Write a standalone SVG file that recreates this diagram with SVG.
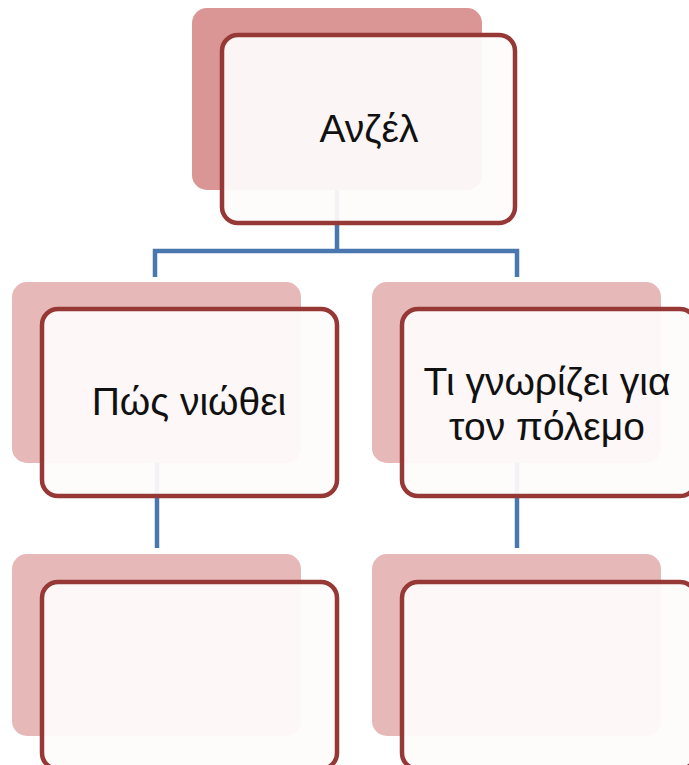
<svg xmlns="http://www.w3.org/2000/svg" width="689" height="765" viewBox="0 0 689 765">
<defs>
<style>
.back1{fill:#D99694}
.back2{fill:#E6B9B8}
.front{fill:#FEFBFB;fill-opacity:0.94;stroke:#963836;stroke-width:4.5}
.conn{fill:none;stroke:#4A78AE;stroke-width:4.5}
.lbl{font-family:"Liberation Sans","DejaVu Sans",sans-serif;font-size:39px;fill:#111111;text-anchor:middle}
</style>
</defs>
<rect width="689" height="765" fill="#FFFFFF"/>
<g id="connectors">
<path class="conn" d="M337 190 V251 M155 277 V251 H517 V277"/>
<path class="conn" d="M157 463 V548"/>
<path class="conn" d="M517 463 V548"/>
</g>
<g id="node-top">
<rect class="back1" x="192" y="8" width="290" height="182" rx="15"/>
<rect class="front" x="222" y="35" width="293" height="188" rx="16"/>
<text class="lbl" x="369" y="142">Ανζέλ</text>
</g>
<g id="node-feel">
<rect class="back2" x="12" y="282" width="289" height="181" rx="15"/>
<rect class="front" x="42" y="309" width="295" height="187" rx="16"/>
<text class="lbl" x="189" y="415">Πώς νιώθει</text>
</g>
<g id="node-war">
<rect class="back2" x="372" y="282" width="289" height="181" rx="15"/>
<rect class="front" x="402" y="309" width="294" height="187" rx="16"/>
<text class="lbl" x="547" y="395">Τι γνωρίζει για</text>
<text class="lbl" x="547" y="440">τον πόλεμο</text>
</g>
<g id="node-feel-child">
<rect class="back2" x="12" y="554" width="289" height="182" rx="15"/>
<rect class="front" x="42" y="582" width="295" height="187" rx="16"/>
</g>
<g id="node-war-child">
<rect class="back2" x="372" y="554" width="289" height="182" rx="15"/>
<rect class="front" x="402" y="582" width="294" height="187" rx="16"/>
</g>
</svg>
